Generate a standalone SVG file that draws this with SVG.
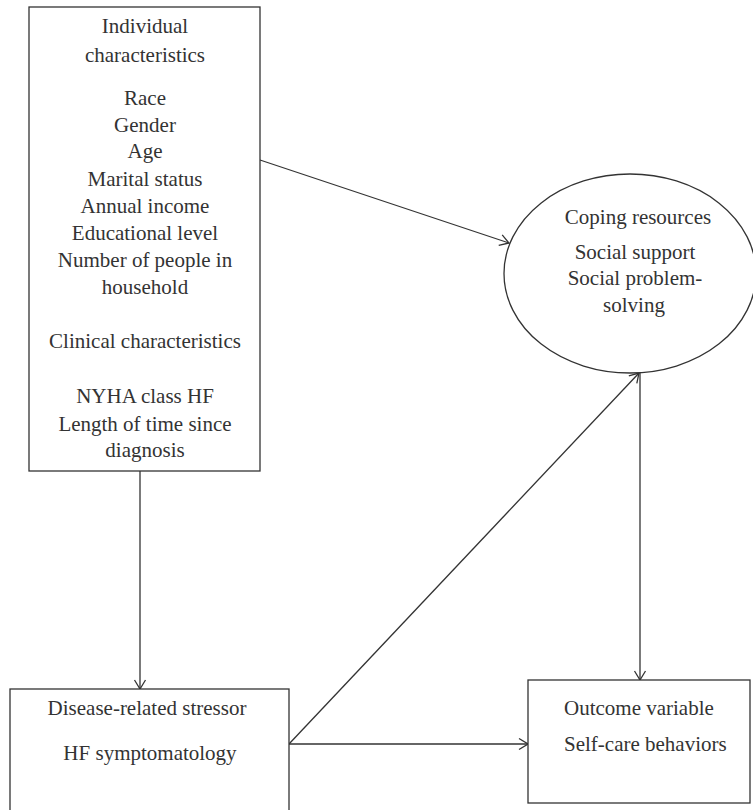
<svg xmlns="http://www.w3.org/2000/svg" width="753" height="810" viewBox="0 0 753 810">
<style>
.box{fill:#fff;stroke:#333;stroke-width:1.3}
.t{font-family:"Liberation Serif","Times New Roman",serif;font-size:21px;fill:#333;text-anchor:middle}
.tl{font-family:"Liberation Serif","Times New Roman",serif;font-size:21px;fill:#333;text-anchor:start}
.c{stroke:#333;stroke-width:1.3;fill:none;marker-end:url(#ah)}
</style>
<defs>
<marker id="ah" markerUnits="userSpaceOnUse" markerWidth="14" markerHeight="14" viewBox="0 0 14 14" refX="13" refY="7" orient="auto">
<path d="M4,1.5 L13,7 L4,12.5" fill="none" stroke="#333" stroke-width="1.3"/>
</marker>
</defs>
<g id="connectors">
<line class="c" x1="260" y1="160" x2="509" y2="243"/>
<line class="c" x1="140" y1="471" x2="140" y2="689"/>
<line class="c" x1="289" y1="744" x2="528" y2="744"/>
<line class="c" x1="289" y1="744" x2="639" y2="373"/>
<line class="c" x1="640" y1="373" x2="640" y2="680"/>
</g>
<g id="individual">
<rect class="box" x="29" y="7" width="231" height="464"/>
<text class="t" x="145" y="33">Individual</text>
<text class="t" x="145" y="62">characteristics</text>
<text class="t" x="145" y="105">Race</text>
<text class="t" x="145" y="132">Gender</text>
<text class="t" x="145" y="158">Age</text>
<text class="t" x="145" y="186">Marital status</text>
<text class="t" x="145" y="213">Annual income</text>
<text class="t" x="145" y="240">Educational level</text>
<text class="t" x="145" y="267">Number of people in</text>
<text class="t" x="145" y="294">household</text>
<text class="t" x="145" y="348">Clinical characteristics</text>
<text class="t" x="145" y="403">NYHA class HF</text>
<text class="t" x="145" y="431">Length of time since</text>
<text class="t" x="145" y="457">diagnosis</text>
</g>
<g id="coping">
<ellipse class="box" cx="630" cy="273.5" rx="126" ry="99.5"/>
<text class="t" x="638" y="224">Coping resources</text>
<text class="t" x="635" y="259">Social support</text>
<text class="t" x="635" y="285">Social problem-</text>
<text class="t" x="634" y="312">solving</text>
</g>
<g id="stressor">
<rect class="box" x="10" y="689" width="279" height="130"/>
<text class="t" x="147" y="715">Disease-related stressor</text>
<text class="t" x="150" y="760">HF symptomatology</text>
</g>
<g id="outcome">
<rect class="box" x="528" y="680" width="222" height="123"/>
<text class="tl" x="564" y="715">Outcome variable</text>
<text class="tl" x="564" y="751">Self-care behaviors</text>
</g>
</svg>
